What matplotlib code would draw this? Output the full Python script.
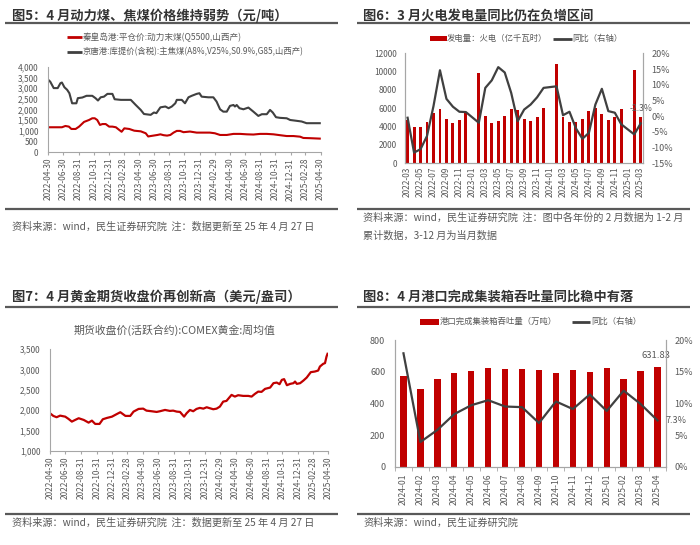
import matplotlib
matplotlib.use('Agg')
import matplotlib.pyplot as plt
from matplotlib.lines import Line2D
from matplotlib.patches import Rectangle
from matplotlib.ticker import FuncFormatter
import numpy as np
import pandas as pd

plt.rcParams['font.family'] = ['Noto Sans CJK SC', 'DejaVu Sans']

# ---------------- data ----------------
# Fig 5: coke (black) and thermal coal (red), yuan/ton
coke_dates = ['2022-04-30', '2022-05-09', '2022-05-23', '2022-06-08', '2022-06-19', '2022-06-25',
              '2022-07-05', '2022-07-16', '2022-07-25', '2022-08-05', '2022-08-22', '2022-08-28',
              '2022-09-15', '2022-10-02', '2022-10-25', '2022-11-07', '2022-11-17', '2022-11-28',
              '2022-12-11', '2022-12-25', '2023-01-14', '2023-01-23', '2023-02-17', '2023-03-29',
              '2023-04-18', '2023-05-08', '2023-05-21', '2023-06-17', '2023-06-30', '2023-07-10',
              '2023-07-26', '2023-08-15', '2023-08-28', '2023-09-10', '2023-09-24', '2023-09-30',
              '2023-10-20', '2023-11-02', '2023-11-16', '2023-11-29', '2023-12-19', '2023-12-30',
              '2024-01-08', '2024-02-04', '2024-02-24', '2024-03-08', '2024-03-22', '2024-04-04',
              '2024-04-18', '2024-05-01', '2024-05-15', '2024-05-21', '2024-05-28', '2024-06-08',
              '2024-06-24', '2024-07-14', '2024-08-03', '2024-08-23', '2024-09-06', '2024-09-26',
              '2024-10-09', '2024-10-20', '2024-11-02', '2024-11-18', '2024-12-15', '2024-12-29',
              '2025-01-18', '2025-02-13', '2025-03-05', '2025-04-01', '2025-04-27']
coke_price = [3400, 3300, 3000, 3000, 3230, 3260, 3040, 2920, 2760, 2290, 2290, 2530,
              2560, 2640, 2640, 2530, 2420, 2570, 2600, 2730, 2730, 2480, 2450, 2450,
              2210, 1980, 1790, 1750, 1860, 1830, 2100, 2140, 2060, 2140, 2290, 2450,
              2450, 2290, 2570, 2640, 2730, 2760, 2600, 2570, 2570, 2370, 2010, 1900,
              1900, 2170, 2210, 2140, 2210, 2060, 2010, 2090, 1900, 1700, 1780, 1780,
              1980, 1860, 1640, 1610, 1590, 1510, 1480, 1440, 1360, 1360, 1360]

coal_dates = ['2022-04-30', '2022-05-23', '2022-06-25', '2022-07-09', '2022-07-23', '2022-08-02',
              '2022-08-19', '2022-09-02', '2022-09-22', '2022-10-12', '2022-10-25', '2022-11-04',
              '2022-11-14', '2022-11-25', '2022-12-05', '2022-12-18', '2023-01-01', '2023-01-14',
              '2023-01-28', '2023-02-10', '2023-02-20', '2023-03-03', '2023-03-23', '2023-04-12',
              '2023-05-08', '2023-05-28', '2023-06-07', '2023-06-17', '2023-07-14', '2023-07-26',
              '2023-08-08', '2023-08-22', '2023-09-04', '2023-09-17', '2023-09-30', '2023-10-13',
              '2023-10-27', '2023-11-22', '2023-12-19', '2024-01-14', '2024-02-10', '2024-03-01',
              '2024-03-22', '2024-04-18', '2024-05-15', '2024-06-11', '2024-07-08', '2024-08-03',
              '2024-08-30', '2024-09-26', '2024-10-23', '2024-11-18', '2024-12-15', '2025-01-11',
              '2025-02-07', '2025-02-20', '2025-03-19', '2025-04-27']
coal_price = [1170, 1170, 1170, 1230, 1200, 1090, 1090, 1200, 1420, 1510, 1590, 1590,
              1510, 1280, 1320, 1320, 1200, 1200, 1170, 1050, 960, 1120, 1090, 1010,
              980, 890, 740, 760, 810, 840, 800, 780, 810, 920, 1000, 1000,
              940, 970, 920, 920, 920, 890, 810, 810, 860, 860, 840, 830,
              860, 860, 840, 800, 760, 760, 730, 670, 660, 640]

# Fig 6: thermal power generation (100 million kWh) and YoY (%)
gen_months = ['2022-03', '2022-04', '2022-05', '2022-06', '2022-07', '2022-08', '2022-09',
              '2022-10', '2022-11', '2022-12', '2023-01', '2023-02', '2023-03', '2023-04',
              '2023-05', '2023-06', '2023-07', '2023-08', '2023-09', '2023-10', '2023-11',
              '2023-12', '2024-01', '2024-02', '2024-03', '2024-04', '2024-05', '2024-06',
              '2024-07', '2024-08', '2024-09', '2024-10', '2024-11', '2024-12', '2025-01',
              '2025-02', '2025-03']
gen_value = [4700, 4000, 4000, 4500, 5480, 5950, 4780, 4420, 4700, 5460, np.nan, 9800,
             5120, 4440, 4650, 5170, 5900, 5820, 4880, 4620, 5030, 6080, np.nan, 10800,
             5100, 4550, 4500, 4800, 5720, 6080, 5390, 4730, 5100, 5900, np.nan, 10200,
             5030]
gen_yoy = [-0.5, -11.6, -10.5, -6.3, 3.2, 14.6, 5.5, 3.0, 1.4, 1.3, np.nan, -2.1,
           9.0, 11.4, 15.6, 13.9, 7.4, -1.6, 2.1, 3.7, 6.0, 9.0, np.nan, 9.5,
           0.3, 1.4, -3.9, -7.2, -5.3, 3.7, 8.7, 1.6, 1.1, -2.6, np.nan, -5.8,
           -2.3]

# Fig 7: COMEX gold weekly average close (USD/oz)
gold_dates = ['2022-04-30', '2022-05-13', '2022-05-26', '2022-06-09', '2022-06-29', '2022-07-12',
              '2022-07-25', '2022-08-07', '2022-08-21', '2022-09-10', '2022-09-29', '2022-10-12',
              '2022-10-25', '2022-11-11', '2022-11-24', '2022-12-10', '2022-12-30', '2023-01-19',
              '2023-02-01', '2023-02-21', '2023-03-12', '2023-03-25', '2023-04-14', '2023-05-02',
              '2023-05-15', '2023-06-04', '2023-06-24', '2023-07-07', '2023-07-27', '2023-08-15',
              '2023-08-28', '2023-09-11', '2023-09-24', '2023-10-10', '2023-10-20', '2023-11-02',
              '2023-11-15', '2023-11-28', '2023-12-11', '2023-12-25', '2024-01-07', '2024-01-20',
              '2024-02-02', '2024-02-15', '2024-02-28', '2024-03-12', '2024-03-25', '2024-04-14',
              '2024-04-27', '2024-05-10', '2024-05-30', '2024-06-19', '2024-07-02', '2024-07-15',
              '2024-07-28', '2024-08-10', '2024-08-24', '2024-09-13', '2024-09-26', '2024-10-09',
              '2024-10-20', '2024-10-29', '2024-11-07', '2024-11-18', '2024-12-01', '2024-12-14',
              '2024-12-20', '2024-12-27', '2025-01-09', '2025-01-22', '2025-02-04', '2025-02-20',
              '2025-03-08', '2025-03-21', '2025-03-28', '2025-04-10', '2025-04-17', '2025-04-23',
              '2025-04-27']
gold_price = [1921, 1855, 1823, 1862, 1837, 1781, 1715, 1756, 1798, 1756, 1690, 1739,
              1658, 1658, 1773, 1805, 1837, 1904, 1946, 1855, 1855, 1961, 2027, 2034,
              1985, 1970, 1953, 1970, 2002, 1978, 1985, 1961, 1953, 1837, 1921, 2002,
              1970, 2027, 2052, 2034, 2068, 2043, 2019, 2034, 2084, 2207, 2224, 2372,
              2330, 2364, 2347, 2347, 2330, 2397, 2453, 2446, 2520, 2552, 2660, 2675,
              2635, 2741, 2759, 2610, 2643, 2660, 2700, 2643, 2660, 2724, 2798, 2931,
              2946, 2970, 3069, 3136, 3153, 3315, 3382]

# Fig 8: port container throughput (10k tons) and YoY (%)
port_months = ['2024-01', '2024-02', '2024-03', '2024-04', '2024-05', '2024-06', '2024-07',
               '2024-08', '2024-09', '2024-10', '2024-11', '2024-12', '2025-01', '2025-02',
               '2025-03', '2025-04']
port_value = [572, 492, 551, 589, 602, 625, 614, 616, 610, 589, 610, 595, 625, 551, 606, 631.83]
port_yoy = [17.9, 3.9, 5.8, 8.3, 9.7, 10.5, 9.5, 9.4, 6.9, 10.3, 9.1, 11.4, 8.8, 12.0, 9.9, 7.3]

date_ticks = ['2022-04-30', '2022-06-30', '2022-08-31', '2022-10-31', '2022-12-31', '2023-02-28',
              '2023-04-30', '2023-06-30', '2023-08-31', '2023-10-31', '2023-12-31', '2024-02-29',
              '2024-04-30', '2024-06-30', '2024-08-31', '2024-10-31', '2024-12-31', '2025-02-28',
              '2025-04-30']

# ---------------- styling ----------------
W, H = 700, 545
RED = '#C00000'
DARK = '#404040'
TXT = '#595959'
TITLE = '#333333'
SPINE = '#A6A6A6'
RULE = '#595959'

fig = plt.figure(figsize=(7, 5.45), dpi=100)


def fx(x):
    return x / W


def fy(y):
    return 1 - y / H


def ftext(x, y, s, **kw):
    kw.setdefault('va', 'center')
    kw.setdefault('ha', 'left')
    fig.text(fx(x), fy(y), s, **kw)


def fline(x0, x1, y0, y1, color, lw):
    fig.add_artist(Line2D([fx(x0), fx(x1)], [fy(y0), fy(y1)], transform=fig.transFigure,
                          color=color, lw=lw, solid_capstyle='butt'))


def frect(x0, y0, w, h, color):
    fig.add_artist(Rectangle((fx(x0), fy(y0 + h)), w / W, h / H, transform=fig.transFigure,
                             color=color, lw=0))


def add_axes(x0, x1, ytop, ybot):
    return fig.add_axes([fx(x0), fy(ybot), (x1 - x0) / W, (ybot - ytop) / H])


def style(ax, left=True, right=False):
    for s in ['top', 'right', 'left', 'bottom']:
        ax.spines[s].set_visible(False)
    ax.spines['bottom'].set_visible(True)
    ax.spines['bottom'].set_color(SPINE)
    if left:
        ax.spines['left'].set_visible(True)
        ax.spines['left'].set_color(SPINE)
    if right:
        ax.spines['right'].set_visible(True)
        ax.spines['right'].set_color(SPINE)
    ax.set_facecolor('none')


comma = FuncFormatter(lambda v, p: f'{int(v):,}')
pct = FuncFormatter(lambda v, p: f'{int(round(v))}%')

# Titles and rules
TFS = 9.5
ftext(12, 16, '图5：4 月动力煤、焦煤价格维持弱势（元/吨）', fontsize=TFS, fontweight='bold', color=TITLE)
ftext(363, 16, '图6：3 月火电发电量同比仍在负增区间', fontsize=TFS, fontweight='bold', color=TITLE)
ftext(12, 297, '图7：4 月黄金期货收盘价再创新高（美元/盎司）', fontsize=TFS, fontweight='bold', color=TITLE)
ftext(363, 297, '图8：4 月港口完成集装箱吞吐量同比稳中有落', fontsize=TFS, fontweight='bold', color=TITLE)
for (a, b, y) in [(5, 338, 23), (357, 690, 23), (5, 338, 306.5), (357, 690, 306.5)]:
    fline(a, b, y, y, RULE, 1.6)
for (a, b, y) in [(5, 338, 208.5), (357, 690, 208.5), (5, 338, 513.5), (357, 690, 513.5)]:
    fline(a, b, y, y, RULE, 1.6)

src = '资料来源：wind，民生证券研究院  注：数据更新至 25 年 4 月 27 日'
ftext(12, 227, src, fontsize=7.3, color=TXT)
ftext(363, 218, '资料来源：wind，民生证券研究院  注：图中各年份的 2 月数据为 1-2 月', fontsize=7.3, color=TXT)
ftext(363, 236, '累计数据，3-12 月为当月数据', fontsize=7.3, color=TXT)
ftext(12, 523, src, fontsize=7.3, color=TXT)
ftext(363, 523, '资料来源：wind，民生证券研究院', fontsize=7.3, color=TXT)

# ---------------- Fig 5 ----------------
fline(67, 82, 37, 37, RED, 2.0)
ftext(83, 37, '秦皇岛港:平仓价:动力末煤(Q5500,山西产)', fontsize=6.2, color=TXT)
fline(67, 82, 52, 52, DARK, 2.0)
ftext(83, 52, '京唐港:库提价(含税):主焦煤(A8%,V25%,S0.9%,G85,山西产)', fontsize=6.0, color=TXT)

ax5 = add_axes(48, 320.5, 66.7, 152.3)
style(ax5)
ax5.plot(pd.to_datetime(coke_dates), coke_price, color=DARK, lw=1.5)
ax5.plot(pd.to_datetime(coal_dates), coal_price, color=RED, lw=1.5)
ax5.set_ylim(0, 4000)
ax5.set_yticks(np.arange(0, 4001, 500))
ax5.yaxis.set_major_formatter(comma)
ax5.set_xlim(pd.Timestamp(date_ticks[0]), pd.Timestamp(date_ticks[-1]))
ax5.set_xticks(pd.to_datetime(date_ticks))
ax5.set_xticklabels(date_ticks, rotation=90)
ax5.tick_params(axis='y', length=0, pad=7, labelsize=6, labelcolor=TXT)
ax5.tick_params(axis='x', length=2.5, pad=1.5, labelsize=6, labelcolor=TXT, color=SPINE)

# ---------------- Fig 6 ----------------
frect(430, 36, 16.5, 5, RED)
ftext(447, 38.5, '发电量：火电（亿千瓦时）', fontsize=6.0, color=TXT)
fline(553, 572, 38.5, 38.5, DARK, 2.0)
ftext(572, 38.5, '同比（右轴）', fontsize=6.0, color=TXT)

ax6 = add_axes(405, 643.3, 53.3, 163.3)
style(ax6, left=True, right=True)
x6 = np.arange(len(gen_months))
gv = np.array(gen_value, dtype=float)
ax6.bar(x6, gv, width=0.45, color=RED, zorder=2)
ax6.set_ylim(0, 12000)
ax6.set_yticks(np.arange(0, 12001, 2000))
ax6.set_xlim(-0.4, len(gen_months) - 0.6)
ax6.set_xticks(x6[::2])
ax6.set_xticklabels(gen_months[::2], rotation=90)
ax6.tick_params(axis='y', length=0, pad=6, labelsize=6, labelcolor=TXT)
ax6.tick_params(axis='x', length=0, pad=2.5, labelsize=6, labelcolor=TXT)
ax6r = ax6.twinx()
style(ax6r, left=True, right=True)
gy = np.array(gen_yoy, dtype=float)
m = ~np.isnan(gy)
ax6r.plot(x6[m], gy[m], color=DARK, lw=1.6, zorder=3)
ax6r.set_ylim(-15, 20)
ax6r.set_yticks(np.arange(-15, 21, 5))
ax6r.yaxis.set_major_formatter(pct)
ax6r.tick_params(axis='y', length=0, pad=6, labelsize=6.5, labelcolor=TXT)
ax6r.annotate(f'{gy[-1]:.1f}%', xy=(x6[-1], gy[-1]), xytext=(0, 15), textcoords='offset pixels',
              ha='center', va='center', fontsize=6.2, color=TXT)

# ---------------- Fig 7 ----------------
ftext(175, 330, '期货收盘价(活跃合约):COMEX黄金:周均值', fontsize=7.8, color=TXT, ha='center')
ax7 = add_axes(50, 328.3, 349, 450.7)
style(ax7)
ax7.plot(pd.to_datetime(gold_dates), gold_price, color=RED, lw=1.6)
ax7.set_ylim(1000, 3500)
ax7.set_yticks(np.arange(1000, 3501, 500))
ax7.yaxis.set_major_formatter(comma)
ax7.set_xlim(pd.Timestamp(date_ticks[0]), pd.Timestamp(date_ticks[-1]))
ax7.set_xticks(pd.to_datetime(date_ticks))
ax7.set_xticklabels(date_ticks, rotation=90)
ax7.tick_params(axis='y', length=0, pad=7, labelsize=6, labelcolor=TXT)
ax7.tick_params(axis='x', length=2.5, pad=1.5, labelsize=6, labelcolor=TXT, color=SPINE)

# ---------------- Fig 8 ----------------
frect(420, 319, 19, 5.5, RED)
ftext(440, 321.7, '港口完成集装箱吞吐量（万吨）', fontsize=6.0, color=TXT)
fline(572, 590, 321.7, 321.7, DARK, 2.0)
ftext(591, 321.7, '同比（右轴）', fontsize=6.0, color=TXT)

ax8 = add_axes(395, 666, 340, 466.7)
style(ax8, left=True, right=True)
x8 = np.arange(len(port_months))
ax8.bar(x8, port_value, width=0.38, color=RED, zorder=2)
ax8.set_ylim(0, 800)
ax8.set_yticks(np.arange(0, 801, 200))
ax8.set_xlim(-0.5, len(port_months) - 0.5)
ax8.set_xticks(x8)
ax8.set_xticklabels(port_months, rotation=90)
ax8.set_xticks(np.arange(-0.5, len(port_months), 1.0), minor=True)
ax8.tick_params(axis='y', length=0, pad=7, labelsize=6.5, labelcolor=TXT)
ax8.tick_params(axis='x', which='major', length=0, pad=5, labelsize=6.2, labelcolor=TXT)
ax8.tick_params(axis='x', which='minor', length=3, color=SPINE)
ax8.annotate(f'{port_value[-1]:.2f}', xy=(x8[-1], port_value[-1]), xytext=(-2, 11),
             textcoords='offset pixels', ha='center', va='center', fontsize=6.8, color=TXT)
ax8r = ax8.twinx()
style(ax8r, left=True, right=True)
ax8r.plot(x8, port_yoy, color=DARK, lw=1.6, zorder=3)
ax8r.set_ylim(0, 20)
ax8r.set_yticks(np.arange(0, 21, 5))
ax8r.yaxis.set_major_formatter(pct)
ax8r.tick_params(axis='y', length=0, pad=6, labelsize=6.5, labelcolor=TXT)
ax8r.annotate(f'{port_yoy[-1]:.1f}%', xy=(x8[-1], port_yoy[-1]), xytext=(8, 0),
              textcoords='offset pixels', ha='left', va='center', fontsize=6.5, color=TXT)

fig.savefig('out.png', dpi=100)
